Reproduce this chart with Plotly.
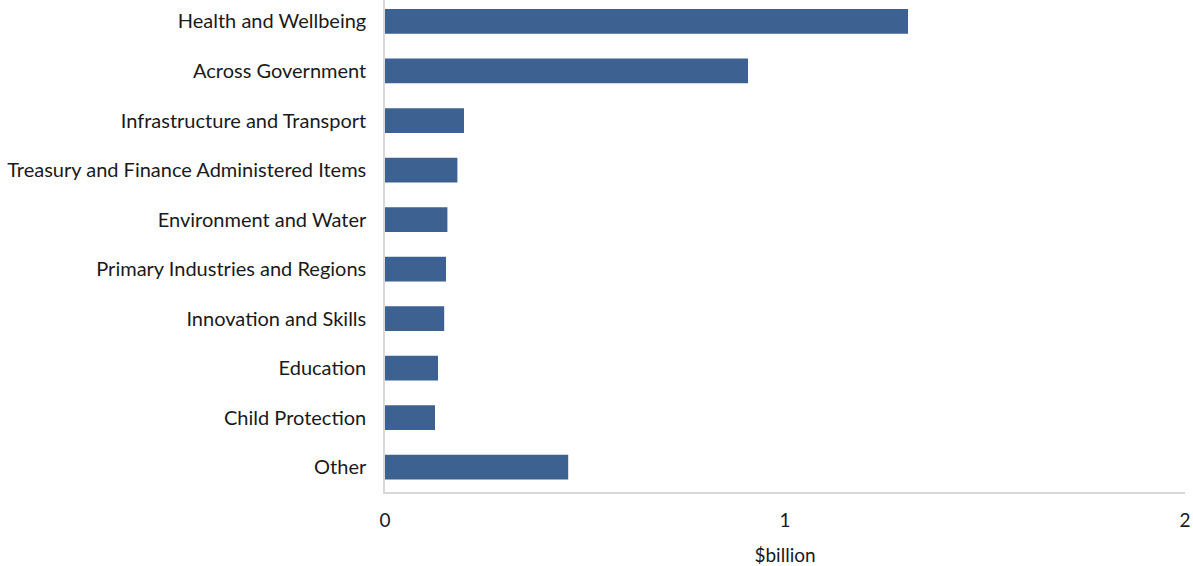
import plotly.graph_objects as go

categories = [
    "Health and Wellbeing",
    "Across Government",
    "Infrastructure and Transport",
    "Treasury and Finance Administered Items",
    "Environment and Water",
    "Primary Industries and Regions",
    "Innovation and Skills",
    "Education",
    "Child Protection",
    "Other",
]
values = [1.3075, 0.9075, 0.1975, 0.181, 0.156, 0.1525, 0.148, 0.1325, 0.125, 0.458]
x_ticks = [0, 1, 2]
x_title = "$billion"

font_family = "Lato, 'Open Sans', sans-serif"

fig = go.Figure(
    go.Bar(
        y=categories,
        x=values,
        orientation="h",
        marker=dict(color="#3d6190", line=dict(width=0)),
        width=0.5,
    )
)

fig.update_layout(
    width=1193,
    height=566,
    margin=dict(l=385, r=8, t=0, b=74),
    plot_bgcolor="white",
    paper_bgcolor="white",
    showlegend=False,
    font=dict(family=font_family, size=20, color="#1a1a1a"),
)

fig.update_xaxes(
    range=[0, 2],
    tickvals=x_ticks,
    ticktext=[str(t) for t in x_ticks],
    showgrid=False,
    zeroline=False,
    showline=True,
    linecolor="#d9d9d9",
    linewidth=1.5,
    ticks="",
    ticklabelstandoff=10,
    automargin=False,
    title=dict(text=x_title, standoff=20, font=dict(size=19)),
    tickfont=dict(size=19),
)

fig.update_yaxes(
    type="category",
    categoryorder="array",
    categoryarray=categories,
    range=[9.5, -0.433],
    showgrid=False,
    zeroline=False,
    showline=True,
    linecolor="#d9d9d9",
    linewidth=1.5,
    ticks="",
    ticklabelstandoff=13,
    automargin=False,
    tickfont=dict(size=20),
)

fig.write_html("out.html")
